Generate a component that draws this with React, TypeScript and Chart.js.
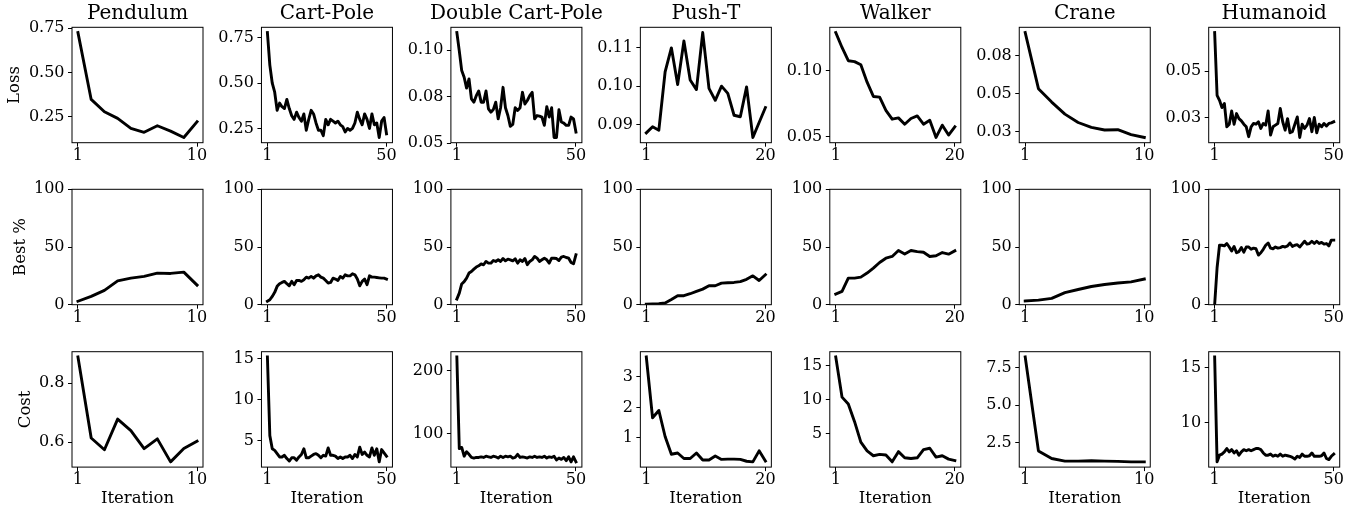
import React, { useEffect, useRef } from 'react';
import { Chart, registerables } from 'chart.js';

Chart.register(...registerables);

// ---------- text ----------
const envNames = ['Pendulum', 'Cart-Pole', 'Double Cart-Pole', 'Push-T', 'Walker', 'Crane', 'Humanoid'];
const metricNames = ['Loss', 'Best %', 'Cost'];
const xAxisLabel = 'Iteration';

// ---------- Loss ----------
const pendulumLoss = [0.726, 0.348, 0.278, 0.241, 0.184, 0.162, 0.199, 0.169, 0.133, 0.222];
const cartPoleLoss = [0.78, 0.6, 0.5, 0.45, 0.35, 0.39, 0.37, 0.36, 0.41, 0.36, 0.32, 0.3, 0.34, 0.31, 0.29, 0.33, 0.24, 0.3, 0.35, 0.33, 0.28, 0.24, 0.24, 0.21, 0.3, 0.27, 0.3, 0.29, 0.28, 0.29, 0.27, 0.26, 0.23, 0.25, 0.24, 0.25, 0.28, 0.34, 0.3, 0.27, 0.33, 0.3, 0.25, 0.33, 0.27, 0.28, 0.2, 0.29, 0.31, 0.22];
const doubleCartPoleLoss = [0.1095, 0.0996, 0.089, 0.0854, 0.0796, 0.0845, 0.0738, 0.072, 0.0755, 0.078, 0.072, 0.072, 0.078, 0.0684, 0.0666, 0.068, 0.072, 0.063, 0.069, 0.08, 0.069, 0.0648, 0.059, 0.06, 0.069, 0.0675, 0.069, 0.0773, 0.071, 0.0729, 0.0755, 0.0773, 0.063, 0.0648, 0.0645, 0.064, 0.0595, 0.0696, 0.064, 0.069, 0.053, 0.053, 0.0679, 0.0613, 0.0607, 0.0595, 0.0595, 0.064, 0.063, 0.0559];
const pushTLoss = [0.0878, 0.0894, 0.0885, 0.1037, 0.11, 0.1004, 0.1118, 0.1016, 0.0991, 0.114, 0.0994, 0.0963, 0.1, 0.0981, 0.0924, 0.092, 0.0998, 0.0866, 0.0905, 0.0944];
const walkerLoss = [0.1288, 0.1175, 0.1075, 0.1068, 0.1045, 0.0913, 0.0805, 0.08, 0.07, 0.0633, 0.0643, 0.0595, 0.0638, 0.0658, 0.0595, 0.0625, 0.0495, 0.0588, 0.0513, 0.0575];
const craneLoss = [0.0901, 0.0533, 0.0445, 0.0366, 0.0311, 0.0279, 0.0262, 0.0264, 0.0232, 0.0213];
const humanoidLoss = [0.0707, 0.0371, 0.0344, 0.0305, 0.0327, 0.0202, 0.0216, 0.0287, 0.0216, 0.0273, 0.0246, 0.0234, 0.0216, 0.0202, 0.0149, 0.0202, 0.022, 0.0216, 0.0229, 0.0193, 0.022, 0.0211, 0.0287, 0.0158, 0.0202, 0.0211, 0.022, 0.03, 0.0229, 0.0184, 0.0246, 0.017, 0.0176, 0.0216, 0.0255, 0.0145, 0.0216, 0.0193, 0.0211, 0.0246, 0.0176, 0.0252, 0.017, 0.0216, 0.0202, 0.022, 0.0206, 0.022, 0.0223, 0.0229];

// ---------- Best % ----------
const pendulumBest = [3, 7.2, 12.4, 20.7, 23, 24.5, 27.4, 27.1, 28.2, 17];
const cartPoleBest = [3, 4.3, 7.2, 10.7, 15.9, 18.2, 19.3, 20.2, 18.2, 16.4, 20.2, 17.3, 21, 21, 20.2, 21.6, 23.9, 23, 24.5, 23, 25, 25.9, 23.9, 23, 21, 18.7, 19.3, 23, 22.2, 21, 24.5, 23, 25.9, 25, 25, 26.8, 25.9, 22.2, 16.4, 20.2, 22.2, 17.3, 25, 23.9, 23.9, 23.6, 23.3, 23, 23, 22.2];
const doubleCartPoleBest = [4.9, 10, 18, 20, 23, 27.4, 28.8, 30.8, 32.6, 33.7, 35.4, 34.6, 37.5, 36, 36, 38.3, 37.5, 38.9, 37.5, 40, 38, 39.5, 38.9, 38, 39.8, 36, 38.9, 37.5, 40, 34.6, 37.5, 38.9, 41.8, 40.3, 37.5, 38.9, 40.3, 38.9, 36, 40.3, 40.3, 40, 38.3, 41.2, 41.8, 40.9, 40.3, 36.6, 35.4, 43.2];
const pushTBest = [0.5, 0.6, 0.8, 1.5, 4.5, 7.8, 7.8, 9.5, 11.5, 13.5, 16.4, 16.4, 18.7, 19, 19.3, 20, 22, 25, 21, 26];
const walkerBest = [9.2, 11.5, 23, 23, 23.9, 27.4, 31.7, 36.6, 40.3, 41.8, 47, 44, 47, 46, 45.5, 41.8, 42.4, 45.2, 43.8, 46.7];
const craneBest = [3.2, 4, 5.5, 10.5, 13.2, 15.8, 17.5, 18.8, 19.8, 22.2];
const humanoidBest = [0, 32, 51.5, 51.5, 51, 53, 50, 46.5, 50.5, 45, 46, 49.5, 45.5, 50, 50, 48, 49, 48.5, 43, 45, 48, 51.5, 53.5, 49, 48.5, 50, 49, 49.5, 50.5, 50, 51, 53.5, 50.5, 51.5, 52, 50, 52.5, 55, 52.5, 53, 55, 53, 55, 53, 54, 52.5, 53, 51, 56, 56];

// ---------- Cost ----------
const pendulumCost = [0.889, 0.614, 0.574, 0.678, 0.639, 0.578, 0.611, 0.533, 0.578, 0.603];
const cartPoleCost = [15.2, 5.6, 4.0, 3.8, 3.4, 3.0, 3.0, 3.2, 2.8, 2.5, 2.9, 2.9, 2.6, 3.0, 3.3, 4.0, 2.9, 2.9, 3.1, 3.3, 3.4, 3.2, 2.9, 3.2, 3.1, 4.1, 3.2, 3.2, 3.1, 2.8, 3.0, 2.8, 3.0, 3.0, 3.2, 2.8, 3.3, 3.0, 4.2, 3.3, 3.6, 3.2, 3.0, 4.1, 3.2, 4.0, 2.4, 3.9, 3.5, 3.1];
const doubleCartPoleCost = [222, 76, 78, 64, 71, 67, 62, 61, 62, 62, 63, 62, 64, 63, 62, 64, 63, 61, 64, 62, 64, 63, 64, 61, 62, 67, 62, 63, 62, 61, 63, 62, 64, 62, 63, 62, 64, 61, 63, 62, 64, 58, 61, 59, 62, 57, 63, 55, 63, 55];
const pushTCost = [3.65, 1.66, 1.9, 1.05, 0.47, 0.51, 0.33, 0.33, 0.51, 0.28, 0.28, 0.41, 0.3, 0.31, 0.31, 0.3, 0.24, 0.22, 0.58, 0.25];
const walkerCost = [16.3, 10.4, 9.4, 6.8, 3.8, 2.5, 1.8, 2.0, 1.9, 0.9, 2.4, 1.5, 1.4, 1.5, 2.7, 2.9, 1.6, 1.8, 1.3, 1.1];
const craneCost = [8.2, 1.95, 1.44, 1.27, 1.27, 1.29, 1.27, 1.25, 1.22, 1.22];
const humanoidCost = [15.95, 6.5, 7.1, 7.2, 7.4, 7.7, 7.4, 7.6, 7.3, 7.5, 7.1, 7.4, 7.6, 7.5, 7.6, 7.5, 7.6, 7.7, 7.7, 7.6, 7.3, 7.1, 7.1, 7.2, 7.0, 7.1, 7.0, 7.2, 7.0, 7.1, 7.05, 7.0, 6.9, 6.75, 7.0, 6.9, 7.2, 7.0, 7.0, 7.05, 7.3, 7.0, 7.0, 7.0, 7.05, 7.3, 6.8, 6.7, 7.0, 7.2];

// ---------- y ticks ----------
const lossTickValues = [[0.25, 0.5, 0.75], [0.25, 0.5, 0.75], [0.05, 0.075, 0.1], [0.09, 0.1, 0.11], [0.05, 0.1], [0.025, 0.05, 0.075], [0.025, 0.05]];
const lossTickLabels = [['0.25', '0.50', '0.75'], ['0.25', '0.50', '0.75'], ['0.05', '0.08', '0.10'], ['0.09', '0.10', '0.11'], ['0.05', '0.10'], ['0.03', '0.05', '0.08'], ['0.03', '0.05']];
const bestTickValues = [0, 50, 100];
const bestTickLabels = ['0', '50', '100'];
const bestRange = [0, 100];
const costTickValues = [[0.6, 0.8], [5, 10, 15], [100, 200], [1, 2, 3], [5, 10, 15], [2.5, 5, 7.5], [10, 15]];
const costTickLabels = [['0.6', '0.8'], ['5', '10', '15'], ['100', '200'], ['1', '2', '3'], ['5', '10', '15'], ['2.5', '5.0', '7.5'], ['10', '15']];

const lossSeries = [pendulumLoss, cartPoleLoss, doubleCartPoleLoss, pushTLoss, walkerLoss, craneLoss, humanoidLoss];
const bestSeries = [pendulumBest, cartPoleBest, doubleCartPoleBest, pushTBest, walkerBest, craneBest, humanoidBest];
const costSeries = [pendulumCost, cartPoleCost, doubleCartPoleCost, pushTCost, walkerCost, craneCost, humanoidCost];

// ---------- layout ----------
const FONT = "'DejaVu Serif', serif";
const BOX_LEFT0 = 72;
const COL_STEP = 189.45;
const BOX_W = 131;
const BOX_H = 115.4;
const ROW_TOPS = [27.3, 189.3, 351.7];
const PAGE_H = 508;
const TITLE_SIZE = 20;
const TITLE_Y = 14;
const LABEL_SIZE = 16.5;
const TICK_SIZE = 16;
const YLABEL_OFFSETS = [15, 20.8, 25.9];

const framePlugin = {
  id: 'frameBox',
  afterDatasetsDraw(chart: any) {
    const { ctx, chartArea: a } = chart;
    ctx.save();
    ctx.strokeStyle = '#000';
    ctx.lineWidth = 1;
    ctx.strokeRect(a.left, a.top, a.right - a.left, a.bottom - a.top);
    ctx.restore();
  },
};

type PanelProps = { row: number; col: number };

function Panel({ row, col }: PanelProps) {
  const ref = useRef<HTMLCanvasElement | null>(null);

  const boxLeft = BOX_LEFT0 + col * COL_STEP;
  const leftSpace = col === 0 ? 72 : 52;
  const cLeft = Math.max(0, Math.floor(boxLeft - leftSpace));
  const L = boxLeft - cLeft;
  const cWidth = Math.ceil(L + BOX_W + 26);
  const R = cWidth - L - BOX_W;
  const boxTop = ROW_TOPS[row];
  const cTop = row === 0 ? 0 : Math.floor(boxTop - 27);
  const T = boxTop - cTop;
  const cHeight = row === 2 ? PAGE_H - cTop : Math.ceil(T + BOX_H + 30);
  const B = cHeight - T - BOX_H;

  useEffect(() => {
    const canvas = ref.current;
    if (!canvas) return;
    const values = row === 0 ? lossSeries[col] : row === 1 ? bestSeries[col] : costSeries[col];
    const tickVals = row === 0 ? lossTickValues[col] : row === 1 ? bestTickValues : costTickValues[col];
    const tickLabs = row === 0 ? lossTickLabels[col] : row === 1 ? bestTickLabels : costTickLabels[col];
    const n = values.length;
    let yMin: number;
    let yMax: number;
    if (row === 1) {
      yMin = bestRange[0];
      yMax = bestRange[1];
    } else {
      const lo = Math.min(...values);
      const hi = Math.max(...values);
      const m = (hi - lo) * 0.05;
      yMin = lo - m;
      yMax = hi + m;
    }
    const xPad = (n - 1) * 0.05;

    const titlePlugin = {
      id: 'panelTitle',
      afterDraw(chart: any) {
        if (row !== 0) return;
        const { ctx, chartArea: a } = chart;
        ctx.save();
        ctx.fillStyle = '#000';
        ctx.font = `normal ${TITLE_SIZE}px ${FONT}`;
        ctx.textAlign = 'center';
        ctx.textBaseline = 'middle';
        ctx.fillText(envNames[col], (a.left + a.right) / 2, TITLE_Y);
        ctx.restore();
      },
    };

    const chart = new Chart(canvas, {
      type: 'line',
      data: {
        datasets: [
          {
            data: values.map((v, i) => ({ x: i + 1, y: v })),
            borderColor: '#000',
            borderWidth: 2.9,
            pointRadius: 0,
            tension: 0,
            fill: false,
            borderJoinStyle: 'round',
            borderCapStyle: 'square',
            clip: 0,
          } as any,
        ],
      },
      options: {
        animation: false,
        responsive: false,
        maintainAspectRatio: false,
        devicePixelRatio: 1,
        events: [],
        layout: { padding: { left: 0, right: R, top: T, bottom: 0 } },
        plugins: {
          legend: { display: false },
          tooltip: { enabled: false },
          title: { display: false },
        },
        scales: {
          x: {
            type: 'linear',
            min: 1 - xPad,
            max: n + xPad,
            afterBuildTicks: (s: any) => {
              s.ticks = [{ value: 1 }, { value: n }];
            },
            afterFit: (s: any) => {
              s.height = B;
            },
            ticks: {
              autoSkip: false,
              maxRotation: 0,
              minRotation: 0,
              padding: 0,
              color: '#000',
              font: { family: FONT, size: TICK_SIZE, lineHeight: 1.15 },
              callback: (v: any) => String(v),
            },
            grid: { display: true, drawOnChartArea: false, drawTicks: true, tickLength: 4, color: '#000', lineWidth: 1 },
            border: { display: false },
            title: {
              display: row === 2,
              text: xAxisLabel,
              color: '#000',
              font: { family: FONT, size: LABEL_SIZE, lineHeight: 1.1 },
              padding: { top: 0, bottom: 0 },
            },
          },
          y: {
            type: 'linear',
            min: yMin,
            max: yMax,
            afterBuildTicks: (s: any) => {
              s.ticks = tickVals.map((v) => ({ value: v }));
            },
            afterFit: (s: any) => {
              s.width = L;
            },
            ticks: {
              autoSkip: false,
              padding: 3.5,
              color: '#000',
              font: { family: FONT, size: TICK_SIZE, lineHeight: 1.2 },
              callback: (_v: any, i: number) => tickLabs[i],
            },
            grid: { display: true, drawOnChartArea: false, drawTicks: true, tickLength: 4, color: '#000', lineWidth: 1 },
            border: { display: false },
            title: {
              display: col === 0,
              text: metricNames[row],
              color: '#000',
              font: { family: FONT, size: LABEL_SIZE, lineHeight: 1.2 },
              padding: { top: YLABEL_OFFSETS[row] - cLeft - (LABEL_SIZE * 1.2) / 2, bottom: 0 },
            },
          },
        },
      } as any,
      plugins: [framePlugin, titlePlugin],
    });
    return () => chart.destroy();
  }, [row, col]);

  return (
    <canvas
      ref={ref}
      width={cWidth}
      height={cHeight}
      style={{ position: 'absolute', left: cLeft, top: cTop, width: cWidth, height: cHeight }}
    />
  );
}

export default function App() {
  const cells: React.ReactElement[] = [];
  for (let r = 0; r < 3; r++) {
    for (let c = 0; c < envNames.length; c++) {
      cells.push(<Panel key={`${r}-${c}`} row={r} col={c} />);
    }
  }
  return (
    <div style={{ position: 'absolute', left: 0, top: 0, width: 1363, height: PAGE_H, background: '#fff', overflow: 'hidden' }}>
      {cells}
    </div>
  );
}
